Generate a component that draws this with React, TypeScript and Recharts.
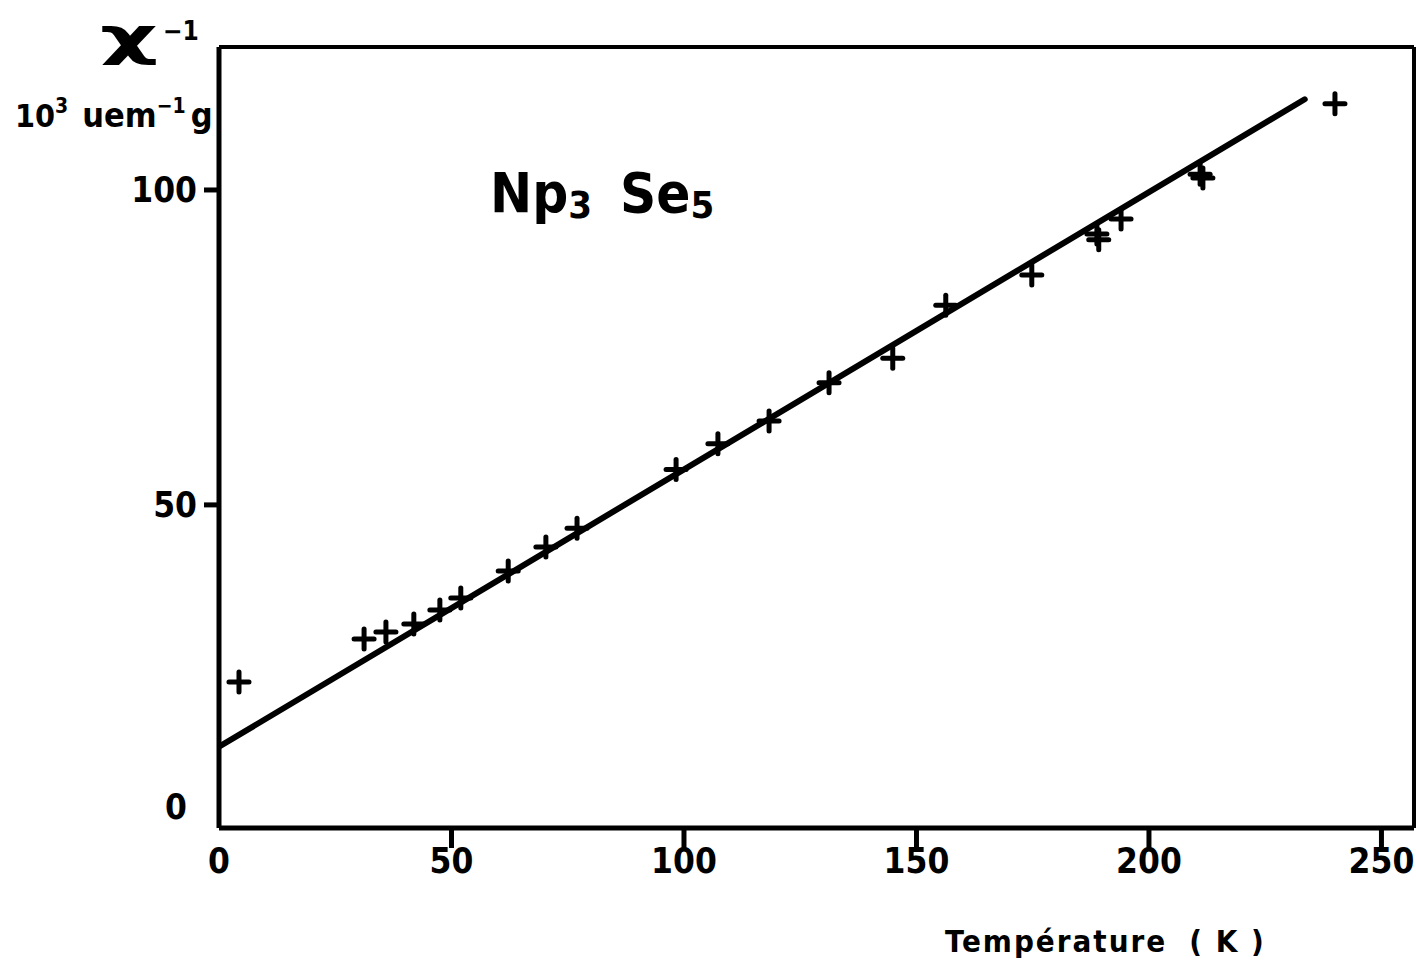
import React from "react";
import { ComposedChart, XAxis, YAxis, Scatter, Line, ReferenceLine } from "recharts";

// Measured points: temperature (K) and inverse susceptibility (10^3 uem^-1 g)
const tempK = [4.3, 31.2, 35.9, 41.9, 47.5, 52.0, 62.2, 70.3, 77.0, 98.3, 107.3, 118.3, 131.2, 144.9, 156.3, 174.8, 188.8, 189.2, 194.0, 211.0, 211.6, 240.0];
const chiInv = [21.9, 28.7, 29.8, 31.1, 33.3, 35.2, 39.5, 43.3, 46.3, 55.6, 59.7, 63.3, 69.4, 73.3, 81.7, 86.5, 93.0, 92.1, 95.4, 102.5, 101.9, 113.7];

// Fitted straight line (end points)
const fitT = [0, 233.5];
const fitY = [11.6, 114.4];

const xTicks = [0, 50, 100, 150, 200, 250];
const yTicks = [0, 50, 100];

const X_DOMAIN = [0, 257];
const Y_DOMAIN = [-1.3, 122.7];

const FONT = "'DejaVu Sans Condensed', 'DejaVu Sans', sans-serif";
const PLOT_LEFT = 219;
const PLOT_BOTTOM = 828;

const scatterData = tempK.map((t, i) => ({ x: t, chi: chiInv[i] }));
const fitData = fitT.map((t, i) => ({ x: t, fit: fitY[i] }));

const Cross = (props: any) => {
  const { cx, cy } = props;
  if (cx == null || cy == null) return null;
  const r = 10;
  return (
    <g stroke="#000" strokeWidth={5} strokeLinecap="round">
      <line x1={cx - r} y1={cy} x2={cx + r} y2={cy} />
      <line x1={cx} y1={cy - r} x2={cx} y2={cy + r} />
    </g>
  );
};

const XTick = (props: any) => {
  const { x, payload } = props;
  const v = payload.value;
  return (
    <g>
      {v !== 0 && <line x1={x} y1={PLOT_BOTTOM} x2={x} y2={PLOT_BOTTOM + 20} stroke="#000" strokeWidth={5} />}
      <text x={x} y={PLOT_BOTTOM + 45} textAnchor="middle" fontFamily={FONT} fontWeight="bold" fontSize={35} fill="#000">
        {v}
      </text>
    </g>
  );
};

const YTick = (props: any) => {
  const { y, payload } = props;
  const v = payload.value;
  if (v === 0) {
    return (
      <text x={176} y={y - 1} textAnchor="middle" fontFamily={FONT} fontWeight="bold" fontSize={35} fill="#000">
        {v}
      </text>
    );
  }
  return (
    <g>
      <line x1={PLOT_LEFT - 15} y1={y} x2={PLOT_LEFT} y2={y} stroke="#000" strokeWidth={5} />
      <text x={PLOT_LEFT - 22} y={y + 12} textAnchor="end" fontFamily={FONT} fontWeight="bold" fontSize={35} fill="#000">
        {v}
      </text>
    </g>
  );
};

export default function App() {
  return (
    <div style={{ position: "absolute", left: 0, top: 0, width: 1416, height: 963, background: "#fff" }}>
      <ComposedChart
        width={1416}
        height={963}
        margin={{ top: 47, right: 2, bottom: 75, left: 139 }}
      >
        <XAxis
          dataKey="x"
          type="number"
          domain={X_DOMAIN}
          ticks={xTicks}
          allowDataOverflow
          height={60}
          axisLine={{ stroke: "#000", strokeWidth: 5 }}
          tickLine={false}
          tick={<XTick />}
          interval={0}
        />
        <YAxis
          type="number"
          domain={Y_DOMAIN}
          ticks={yTicks}
          allowDataOverflow
          width={80}
          axisLine={{ stroke: "#000", strokeWidth: 5 }}
          tickLine={false}
          tick={<YTick />}
          interval={0}
        />
        <ReferenceLine y={Y_DOMAIN[1]} stroke="#000" strokeWidth={4} />
        <ReferenceLine x={X_DOMAIN[1]} stroke="#000" strokeWidth={4} />
        <Line
          data={fitData}
          dataKey="fit"
          stroke="#000"
          strokeWidth={6}
          dot={false}
          isAnimationActive={false}
          strokeLinecap="round"
        />
        <Scatter data={scatterData} dataKey="chi" shape={<Cross />} isAnimationActive={false} />
      </ComposedChart>
      <svg
        width={1416}
        height={963}
        style={{ position: "absolute", left: 0, top: 0, pointerEvents: "none" }}
      >
        <text x={100} y={54} fontFamily={FONT} fontWeight="bold" fontSize={52} textLength={58} lengthAdjust="spacingAndGlyphs" fill="#000">χ</text>
        <text x={163} y={40} fontFamily={FONT} fontWeight="bold" fontSize={26} fill="#000">−1</text>
        <text x={15} y={127} fontFamily={FONT} fontWeight="bold" fontSize={32} fill="#000">
          10
          <tspan fontSize={21} dy={-14}>3</tspan>
          <tspan dy={14} dx={14} fontSize={34}>uem</tspan>
          <tspan fontSize={21} dy={-14}>−1</tspan>
          <tspan dy={14} dx={5} fontSize={34}>g</tspan>
        </text>
        <text x={490} y={212} fontFamily={FONT} fontWeight="bold" fontSize={56} fill="#000">
          Np
          <tspan fontSize={38} dy={6}>3</tspan>
          <tspan dy={-6} dx={28}>Se</tspan>
          <tspan fontSize={38} dy={6}>5</tspan>
        </text>
        <text x={945} y={952} fontFamily={FONT} fontWeight="bold" fontSize={31} letterSpacing={2} fill="#000">
          Température
          <tspan dx={22}>( K )</tspan>
        </text>
      </svg>
    </div>
  );
}
